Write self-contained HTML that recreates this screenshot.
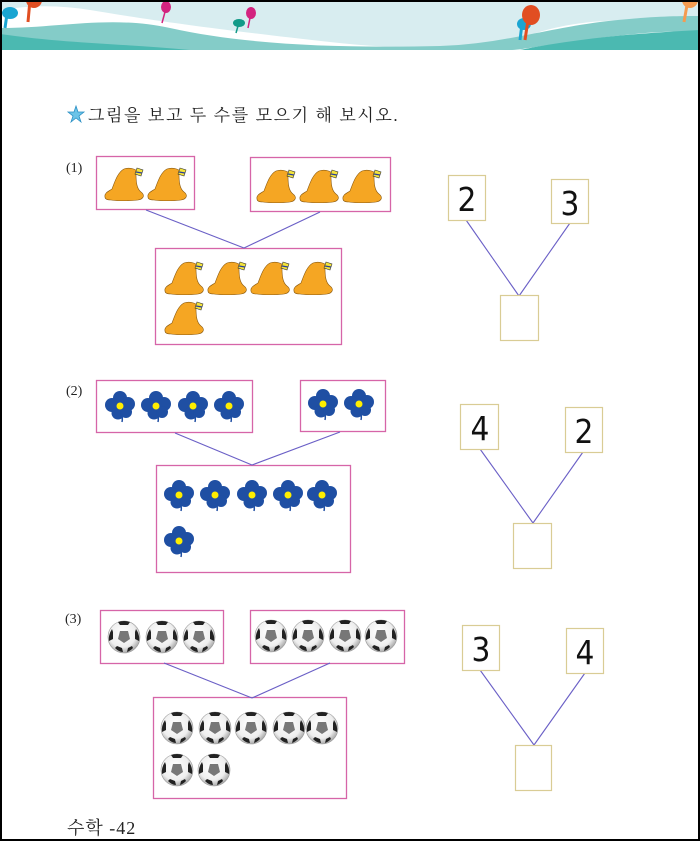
<!DOCTYPE html>
<html><head><meta charset="utf-8"><style>
html,body{margin:0;padding:0;background:#fff}
svg{display:block}
text{font-family:"Liberation Serif","Noto Serif CJK SC","Noto Sans CJK KR",serif}
</style></head><body>
<svg width="700" height="841" viewBox="0 0 700 841" xmlns="http://www.w3.org/2000/svg">
<defs>
<g id="hat">
<path d="M-19,13 C-20,9 -15,7 -12,5 C-9,-3 -6,-12 0,-15 C6,-17 11,-15 15,-12 L12,-10 C12,-1 13,5 17,8 C21,11 20,15 14,16 C6,17 -6,17 -13,16 C-17,16 -19,15 -19,13Z" fill="#f5a623" stroke="#8a5a10" stroke-width="0.6"/>
<path d="M13,-16 L19,-14 L17,-8 L11,-10Z" fill="#f3e33b" stroke="#333" stroke-width="0.6"/>
<line x1="12" y1="-12" x2="18" y2="-11" stroke="#2a3f9a" stroke-width="1.2"/>
</g>
<g id="fl">
<circle cx="0" cy="-8" r="7" fill="#1f4fa3"/><circle cx="8" cy="-2" r="7" fill="#1f4fa3"/>
<circle cx="-8" cy="-1" r="7" fill="#1f4fa3"/><circle cx="-2" cy="7" r="6.5" fill="#1f4fa3"/><circle cx="6" cy="6" r="6" fill="#1f4fa3"/>
<path d="M1,6 Q3,12 2,16" stroke="#1f4fa3" stroke-width="1.5" fill="none"/>
<circle cx="0" cy="0" r="3.5" fill="#ffee00"/>
</g>
<radialGradient id="bg" cx="0.45" cy="0.4" r="0.6"><stop offset="0" stop-color="#fff"/><stop offset="0.7" stop-color="#eee"/><stop offset="1" stop-color="#aaa"/></radialGradient>
<g id="ball">
<circle r="16" fill="url(#bg)" stroke="#999" stroke-width="0.6"/>
<path d="M-4,-6 L4,-6 L6,2 L0,6 L-6,2Z" fill="#777"/>
<path d="M-6,-15 Q0,-17 6,-15 L4,-12 L-4,-12Z" fill="#222"/>
<path d="M12,-8 Q16,-2 15,4 L11,2 L11,-5Z" fill="#222"/>
<path d="M-12,-8 Q-16,-2 -15,4 L-11,2 L-11,-5Z" fill="#222"/>
<path d="M-9,11 Q-5,15 -1,15 L-2,11 L-7,9Z" fill="#222"/>
<path d="M9,11 Q6,14 3,15 L4,11 L8,9Z" fill="#222"/>
</g>
</defs>
<!-- header -->
<path d="M0,0 H700 L700,25 C640,20 590,15 530,35 C470,50 400,50 330,42 C220,30 150,20 90,10 C60,5 30,5 0,10Z" fill="#d8edf0"/>
<path d="M0,28 C60,28 110,15 170,28 C250,46 350,48 440,46 C500,44 540,30 600,22 C650,16 680,16 700,16 V32 C660,30 620,35 570,42 C540,46 520,50 510,50 H0Z" fill="#84ccc8"/>
<path d="M0,34 C70,44 130,44 190,50 H0Z" fill="#4bb9b1"/>
<path d="M520,50 C580,38 640,33 700,30 V50Z" fill="#4bb9b1"/>
<g><line x1="30" y1="0" x2="28" y2="22" stroke="#e14e22" stroke-width="3"/><circle cx="34" cy="0" r="8" fill="#e14e22"/></g>
<g><line x1="7" y1="14" x2="5" y2="28" stroke="#1aa5d2" stroke-width="3"/><ellipse cx="10" cy="13" rx="8" ry="6" fill="#1aa5d2"/></g>
<g><line x1="165" y1="12" x2="162" y2="23" stroke="#d3237f" stroke-width="1.5"/><ellipse cx="166" cy="7" rx="5" ry="6" fill="#d3237f"/></g>
<g><line x1="238" y1="26" x2="236" y2="33" stroke="#129a88" stroke-width="1.5"/><ellipse cx="239" cy="23" rx="6" ry="4" fill="#129a88"/></g>
<g><line x1="250" y1="18" x2="248" y2="28" stroke="#d3237f" stroke-width="1.5"/><ellipse cx="251" cy="13" rx="5" ry="6" fill="#d3237f"/></g>
<g><ellipse cx="524" cy="24" rx="7" ry="6" fill="#1aa5d2"/><line x1="522" y1="24" x2="520" y2="40" stroke="#1aa5d2" stroke-width="3"/><line x1="528" y1="20" x2="525" y2="40" stroke="#e14e22" stroke-width="3"/><ellipse cx="531" cy="15" rx="9" ry="10" fill="#e14e22"/></g>
<g><line x1="687" y1="5" x2="684" y2="22" stroke="#f59b50" stroke-width="3"/><circle cx="690" cy="0" r="8" fill="#f59b50"/></g>
<rect x="1" y="1" width="698" height="839" fill="none" stroke="#000" stroke-width="2"/>
<!-- title -->
<path d="M76,106 L78,112 L84,112 L79,116 L81,122 L76,118 L71,122 L73,116 L68,112 L74,112Z" fill="#6cc4e8" stroke="#2a8fc4" stroke-width="0.8"/>
<text x="88" y="121" font-size="17" letter-spacing="1.6" fill="#222">그림을 보고 두 수를 모으기 해 보시오.</text>
<text x="66" y="172" font-size="14" fill="#222">(1)</text>
<text x="66" y="395" font-size="14" fill="#222">(2)</text>
<text x="65" y="623" font-size="14" fill="#222">(3)</text>
<text x="67" y="834" font-size="18" letter-spacing="1" fill="#222">수학 -42</text>
<g fill="none" stroke="#d665a8" stroke-width="1.3">
<rect x="96.5" y="156.5" width="98" height="53"/><rect x="250.5" y="157.5" width="140" height="54"/><rect x="155.5" y="248.5" width="186" height="96"/>
<rect x="96.5" y="380.5" width="156" height="52"/><rect x="300.5" y="380.5" width="85" height="51"/><rect x="156.5" y="465.5" width="194" height="107"/>
<rect x="100.5" y="610.5" width="123" height="53"/><rect x="250.5" y="610.5" width="154" height="53"/><rect x="153.5" y="697.5" width="193" height="101"/>
</g>
<g stroke="#6a5fc6" stroke-width="1.1">
<line x1="146" y1="210" x2="244" y2="248"/><line x1="320" y1="212" x2="244" y2="248"/>
<line x1="175" y1="433" x2="252" y2="465"/><line x1="340" y1="432" x2="252" y2="465"/>
<line x1="164" y1="663" x2="252" y2="698"/><line x1="330" y1="663" x2="252" y2="698"/>
<line x1="466" y1="220" x2="519" y2="296"/><line x1="570" y1="223" x2="519" y2="296"/>
<line x1="480" y1="449" x2="533" y2="523"/><line x1="583" y1="452" x2="533" y2="523"/>
<line x1="480" y1="670" x2="534" y2="745"/><line x1="585" y1="673" x2="534" y2="745"/>
</g>
<g fill="#fff" stroke="#d9cc95" stroke-width="1.2">
<rect x="448.5" y="175.5" width="37" height="45"/><rect x="551.5" y="179.5" width="37" height="44"/><rect x="500.5" y="295.5" width="38" height="45"/>
<rect x="460.5" y="404.5" width="38" height="45"/><rect x="565.5" y="407.5" width="37" height="45"/><rect x="513.5" y="523.5" width="38" height="45"/>
<rect x="462.5" y="625.5" width="37" height="45"/><rect x="566.5" y="628.5" width="37" height="45"/><rect x="515.5" y="745.5" width="36" height="45"/>
</g>
<g font-size="33" fill="#111" text-anchor="middle">
<text x="467" y="211" style="font-family:'DejaVu Sans Condensed','Liberation Sans Narrow','Liberation Sans',sans-serif;font-weight:normal">2</text>
<text x="570" y="215" style="font-family:'DejaVu Sans Condensed','Liberation Sans Narrow','Liberation Sans',sans-serif">3</text>
<text x="480" y="440" style="font-family:'DejaVu Sans Condensed','Liberation Sans Narrow','Liberation Sans',sans-serif">4</text>
<text x="584" y="443" style="font-family:'DejaVu Sans Condensed','Liberation Sans Narrow','Liberation Sans',sans-serif">2</text>
<text x="481" y="661" style="font-family:'DejaVu Sans Condensed','Liberation Sans Narrow','Liberation Sans',sans-serif">3</text>
<text x="585" y="664" style="font-family:'DejaVu Sans Condensed','Liberation Sans Narrow','Liberation Sans',sans-serif">4</text>
</g>
<use href="#hat" x="124" y="184"/><use href="#hat" x="167" y="184"/>
<use href="#hat" x="276" y="186"/><use href="#hat" x="319" y="186"/><use href="#hat" x="362" y="186"/>
<use href="#hat" x="184" y="278"/><use href="#hat" x="227" y="278"/><use href="#hat" x="270" y="278"/><use href="#hat" x="313" y="278"/>
<use href="#hat" x="184" y="318"/>
<use href="#fl" x="120" y="406"/><use href="#fl" x="156" y="406"/><use href="#fl" x="193" y="406"/><use href="#fl" x="229" y="406"/>
<use href="#fl" x="323" y="404"/><use href="#fl" x="359" y="404"/>
<use href="#fl" x="179" y="495"/><use href="#fl" x="215" y="495"/><use href="#fl" x="252" y="495"/><use href="#fl" x="288" y="495"/><use href="#fl" x="322" y="495"/>
<use href="#fl" x="179" y="541"/>
<use href="#ball" x="124" y="637"/><use href="#ball" x="162" y="637"/><use href="#ball" x="199" y="637"/>
<use href="#ball" x="271" y="636"/><use href="#ball" x="308" y="636"/><use href="#ball" x="345" y="636"/><use href="#ball" x="381" y="636"/>
<use href="#ball" x="177" y="728"/><use href="#ball" x="215" y="728"/><use href="#ball" x="251" y="728"/><use href="#ball" x="289" y="728"/><use href="#ball" x="322" y="728"/>
<use href="#ball" x="177" y="770"/><use href="#ball" x="214" y="770"/>
</svg>
</body></html>
